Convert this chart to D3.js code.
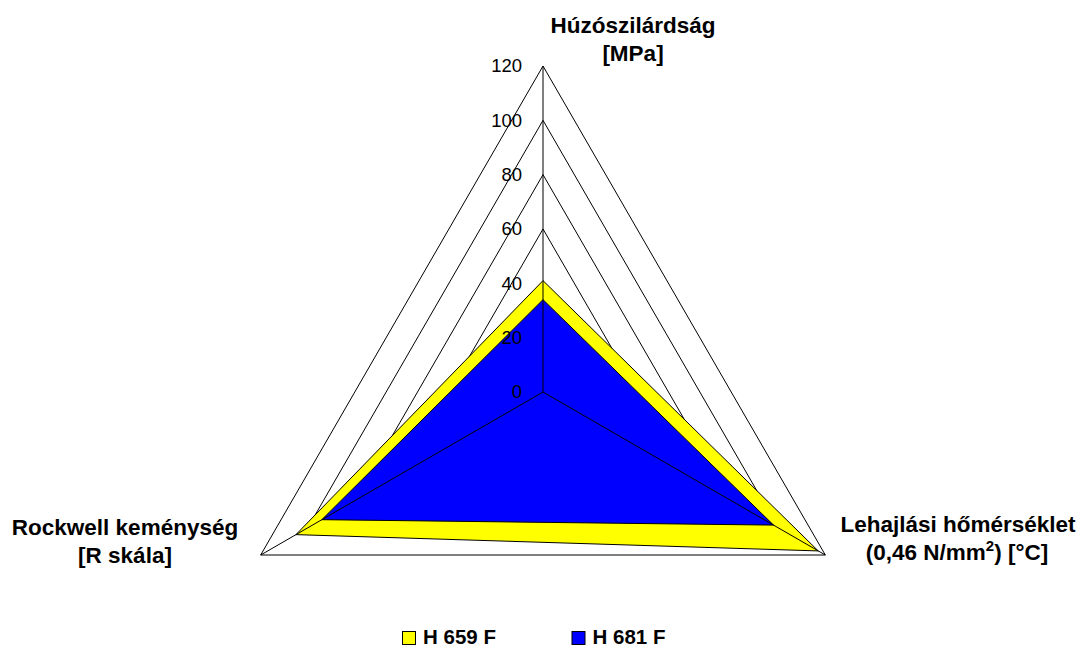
<!DOCTYPE html>
<html><head><meta charset="utf-8">
<script src="https://cdnjs.cloudflare.com/ajax/libs/d3/7.8.5/d3.min.js"></script>
<style>body{margin:0;background:#fff}svg{display:block;font-family:"Liberation Sans",Arial,sans-serif}</style>
</head><body><svg id="c" width="1087" height="648"></svg>
<script>
const axes = ["Húzószilárdság", "Lehajlási hőmérséklet", "Rockwell keménység"];
const seriesNames = ["H 659 F", "H 681 F"];
const h659 = [41, 117, 105];
const h681 = [34, 98, 94];
const ticks = [0, 20, 40, 60, 80, 100, 120];
const colors = ["#FFFF00", "#0000FF"];

const svg = d3.select("#c");
const cx = 543, cy = 392;
const r = d3.scaleLinear().domain([0, 120]).range([0, 326]);
const ang = d3.scaleLinear().domain([0, axes.length]).range([-Math.PI/2, 1.5*Math.PI]);
const pt = (i, v) => [cx + r(v)*Math.cos(ang(i)), cy + r(v)*Math.sin(ang(i))];

// gridlines
ticks.filter(t => t > 0).forEach(t => {
  svg.append("polygon")
    .attr("points", axes.map((a, i) => pt(i, t).join(",")).join(" "))
    .attr("fill", "none").attr("stroke", "#000").attr("stroke-width", 1);
});

// series
[h659, h681].forEach((s, k) => {
  svg.append("polygon")
    .attr("points", s.map((v, i) => pt(i, v).join(",")).join(" "))
    .attr("fill", colors[k]).attr("stroke", "#000").attr("stroke-width", 1);
});

// spokes
axes.forEach((a, i) => {
  const p = pt(i, 120);
  svg.append("line").attr("x1", cx).attr("y1", cy).attr("x2", p[0]).attr("y2", p[1])
    .attr("stroke", "#000").attr("stroke-width", 1);
});

// tick labels
ticks.forEach(t => {
  svg.append("text").attr("x", cx - 21).attr("y", cy - r(t)).attr("dy", "0.35em")
    .attr("text-anchor", "end").attr("font-size", 18.5).text(t);
});

// axis labels
const lab = svg.append("g").attr("font-weight", "bold").attr("font-size", 22.5).attr("text-anchor", "middle");
const t0 = lab.append("text");
t0.append("tspan").attr("x", 633).attr("y", 33).text(axes[0]);
t0.append("tspan").attr("x", 633).attr("y", 61).text("[MPa]");
const t1 = lab.append("text");
t1.append("tspan").attr("x", 958).attr("y", 532).text(axes[1]);
const l2 = t1.append("tspan").attr("x", 957).attr("y", 560);
l2.append("tspan").text("(0,46 N/mm");
l2.append("tspan").attr("font-size", 15).attr("dy", -9).text("2");
l2.append("tspan").attr("dy", 9).text(") [°C]");
const t2 = lab.append("text");
t2.append("tspan").attr("x", 125).attr("y", 535).text(axes[2]);
t2.append("tspan").attr("x", 125).attr("y", 563).text("[R skála]");

// legend
const lx = [402.5, 572];
seriesNames.forEach((n, k) => {
  svg.append("rect").attr("x", lx[k]).attr("y", 631.5).attr("width", 13).attr("height", 13)
    .attr("fill", colors[k]).attr("stroke", "#000").attr("stroke-width", 1);
  svg.append("text").attr("x", lx[k] + 20.5).attr("y", 644).attr("font-weight", "bold")
    .attr("font-size", 20.5).text(n);
});
</script></body></html>
